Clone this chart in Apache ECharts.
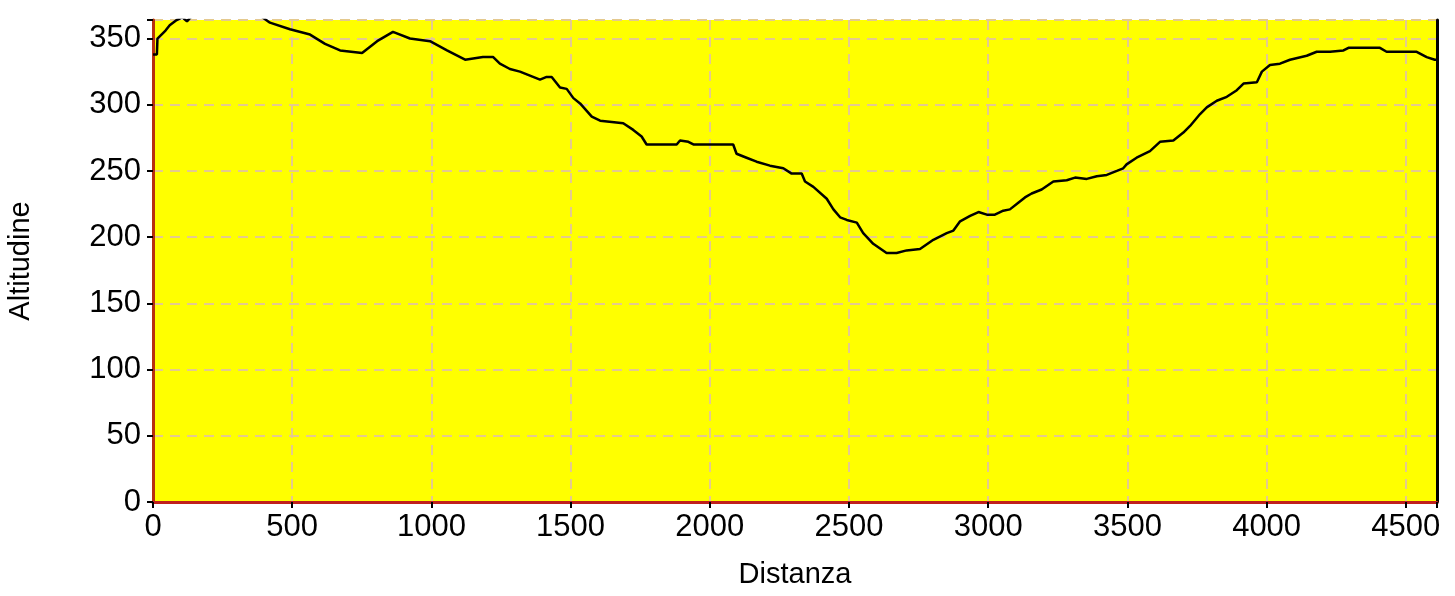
<!DOCTYPE html>
<html>
<head>
<meta charset="utf-8">
<script src="https://cdn.jsdelivr.net/npm/echarts@6/dist/echarts.min.js"></script>
<style>
html,body{margin:0;padding:0;background:#fff;}
#c{width:1455px;height:596px;}
</style>
</head>
<body>
<div id="c"></div>
<script>
const distanza = [0,14,16,45,60,85,105,122,135,200,300,380,420,492,564,618,672,751,805,862,923,995,1056,1121,1185,1222,1246,1282,1318,1354,1390,1414,1432,1462,1486,1510,1534,1576,1606,1648,1689,1725,1755,1773,1881,1893,1923,1941,2084,2096,2132,2168,2216,2264,2294,2330,2342,2372,2420,2444,2468,2492,2528,2551,2587,2635,2671,2707,2755,2803,2851,2875,2899,2935,2965,2995,3024,3054,3078,3108,3132,3156,3192,3234,3282,3312,3354,3390,3426,3462,3485,3497,3533,3581,3617,3665,3701,3725,3761,3785,3821,3857,3893,3917,3965,3983,4012,4048,4084,4144,4180,4228,4276,4294,4407,4431,4479,4539,4575,4604,4612];
const altitudine = [338,338,350,356,360,364,366,363,366,372,374,368,362,357,353,346,341,339,348,355,350,348,341,334,336,336,331,327,325,322,319,321,321,313,312,305,301,291,288,287,286,281,276,270,270,273,272,270,270,263,260,257,254,252,248,248,242,238,229,221,215,213,211,203,195,188,188,190,191,198,203,205,212,216,219,217,217,220,221,226,230,233,236,242,243,245,244,246,247,250,252,255,260,265,272,273,279,284,293,298,303,306,311,316,317,325,330,331,334,337,340,340,341,343,343,340,340,340,336,334,334];
const xTicks = [0,500,1000,1500,2000,2500,3000,3500,4000,4500];
const yTicks = [0,50,100,150,200,250,300,350];
const xMax = 4612, yMax = 364;

const chart = echarts.init(document.getElementById('c'));
const points = distanza.map((d,i)=>[d, altitudine[i]]);
const labelFont = {fontFamily:'Liberation Sans', fontSize:31, color:'#000'};
chart.setOption({
  animation:false,
  backgroundColor:'#ffffff',
  grid:{left:153, right:18, top:20, bottom:94, show:true, backgroundColor:'#ffff00', borderWidth:0, containLabel:false, outerBoundsMode:'none'},
  xAxis:{
    type:'value', min:0, max:xMax, interval:500,
    name:'Distanza', nameLocation:'middle', nameGap:58,
    nameTextStyle:{fontFamily:'Liberation Sans', fontSize:29, color:'#000'},
    axisLine:{show:true, onZero:false, lineStyle:{color:'#c0201c', width:3}},
    axisTick:{show:true, length:6, lineStyle:{color:'#000', width:2}},
    axisLabel:Object.assign({margin:10, formatter:v=>xTicks.includes(v)?String(v):''}, labelFont),
    splitLine:{show:true, lineStyle:{color:'#e4c98e', width:2, type:[10,7]}}
  },
  yAxis:[{
    type:'value', min:0, max:yMax, interval:50,
    name:'Altitudine', nameLocation:'middle', nameGap:118, nameRotate:90,
    nameTextStyle:{fontFamily:'Liberation Sans', fontSize:29, color:'#000'},
    axisLine:{show:true, onZero:false, lineStyle:{color:'#b8300f', width:3}},
    axisTick:{show:true, length:6, lineStyle:{color:'#000', width:2}},
    axisLabel:Object.assign({margin:12, formatter:v=>yTicks.includes(v)?String(v):''}, labelFont),
    splitLine:{show:true, lineStyle:{color:'#e4c98e', width:2, type:[10,7]}}
  },{
    type:'value', min:0, max:yMax, position:'right',
    axisLine:{show:true, onZero:false, lineStyle:{color:'#000', width:3}},
    axisTick:{show:false}, axisLabel:{show:false}, splitLine:{show:false}
  }],
  series:[{
    type:'line', data:points, showSymbol:false, clip:true,
    lineStyle:{color:'#000', width:2.5}
  }]
});
</script>
</body>
</html>
